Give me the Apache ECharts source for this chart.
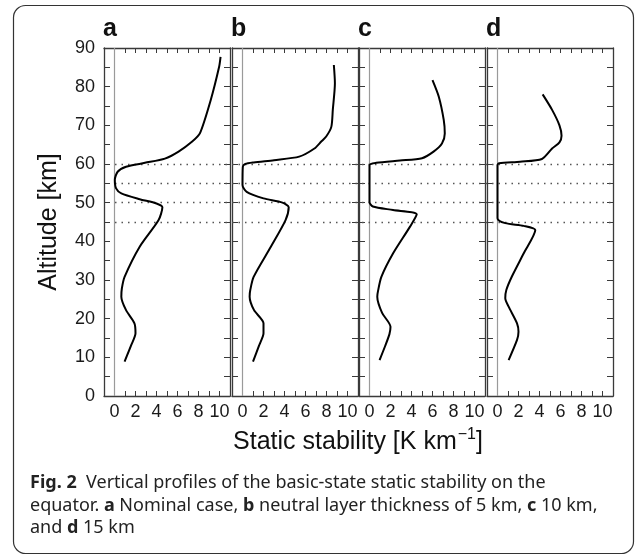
<!DOCTYPE html>
<html>
<head>
<meta charset="utf-8">
<script src="https://cdn.jsdelivr.net/npm/echarts@6/dist/echarts.min.js"></script>
<style>
  html, body { margin: 0; padding: 0; background: #fff; }
  #container { width: 637px; height: 558px; }
</style>
</head>
<body>
<div id="container"></div>
<script>
// panel letters
var panelNames = ['a', 'b', 'c', 'd'];

// static stability [K/km] and altitude [km]
var stabA = [10.1, 9.97, 9.16, 8.13, 7.4, 6.1, 4.8, 2.9, 1.1, 0.3, 0.03, 0.15, 0.65, 2.4, 4.0, 4.56, 4.2, 2.4, 0.96, 0.7, 0.65, 1.1, 1.9, 2.0, 1.6, 0.96];
var altA  = [87.7, 85.2, 76.5, 67.9, 65.8, 63.2, 61.4, 60.3, 59.3, 58.0, 55.9, 53.7, 52.4, 50.9, 49.8, 48.8, 45.5, 38.6, 30.8, 27.8, 25.7, 22.2, 18.8, 16.2, 13.2, 8.9];

var stabB = [8.7, 8.8, 8.6, 8.46, 7.97, 7.5, 6.85, 5.4, 3.0, 1.06, 0.26, 0.03, 0.0, 0.4, 2.0, 3.8, 4.4, 4.1, 2.7, 1.06, 0.74, 0.68, 1.1, 2.0, 2.0, 1.6, 1.0];
var altB  = [85.6, 80.9, 74.0, 69.6, 67.1, 65.8, 64.0, 61.9, 61.0, 60.4, 60.0, 59.3, 54.6, 52.8, 51.1, 50.0, 48.8, 45.5, 38.6, 30.8, 27.4, 25.7, 22.2, 18.8, 16.2, 13.2, 8.9];

var stabC = [6.0, 6.6, 7.07, 7.17, 6.9, 6.1, 5.0, 2.9, 0.65, 0.0, 0.0, 0.32, 2.25, 4.5, 3.86, 2.25, 1.13, 0.8, 0.74, 1.2, 2.0, 1.9, 1.5, 0.96];
var altC  = [81.7, 77.4, 71.4, 67.9, 65.3, 63.2, 61.5, 60.9, 60.3, 59.7, 50.2, 49.0, 48.1, 47.0, 43.8, 36.9, 30.8, 27.0, 25.7, 21.5, 17.9, 16.0, 13.0, 9.3];

var stabD = [4.3, 5.2, 5.9, 6.1, 5.9, 5.2, 4.23, 2.15, 0.16, 0.0, 0.0, 0.74, 2.5, 3.6, 2.5, 1.37, 0.84, 0.74, 1.06, 1.86, 2.0, 1.86, 1.06];
var altD  = [78.0, 74.0, 70.0, 67.3, 65.6, 64.0, 61.3, 60.6, 60.2, 59.7, 46.0, 44.7, 44.0, 42.9, 36.9, 30.9, 27.4, 25.3, 23.1, 18.8, 16.6, 14.5, 9.3];

// dotted reference altitudes [km]
var dottedLevels = [45, 50, 55, 60];

// tick labels
var xTickLabels = [0, 2, 4, 6, 8, 10];
var yTickLabels = [0, 10, 20, 30, 40, 50, 60, 70, 80, 90];

var profiles = [[stabA, altA], [stabB, altB], [stabC, altC], [stabD, altD]];

var myChart = echarts.init(document.getElementById('container'));

var lefts = [104, 232, 359, 487];
var plotW = 126, plotTop = 48, plotH = 348;
var frameColor = '#3a3a3a';
var font = 'Liberation Sans, Arial, sans-serif';

var grids = [], xAxes = [], yAxes = [], series = [], graphics = [];

for (var i = 0; i < 4; i++) {
    grids.push({left: lefts[i], top: plotTop, width: plotW, height: plotH});

    var xBase = {
        gridIndex: i, type: 'value', min: -1, max: 11, interval: 1,
        axisLine: {show: true, onZero: false, lineStyle: {color: frameColor, width: 1.3}},
        axisTick: {show: true, inside: true, length: 5, lineStyle: {color: frameColor, width: 1}},
        splitLine: {show: false}
    };
    xAxes.push(Object.assign({}, xBase, {
        position: 'bottom',
        axisLabel: {
            margin: 7, fontSize: 18, color: '#1a1a1a', fontFamily: font,
            showMinLabel: true, showMaxLabel: true,
            formatter: function (v) { return xTickLabels.indexOf(v) >= 0 ? String(v) : ''; }
        }
    }));
    xAxes.push(Object.assign({}, xBase, {position: 'top', axisLabel: {show: false}}));

    var yBase = {
        gridIndex: i, type: 'value', min: 0, max: 90, interval: 5,
        axisLine: {show: true, onZero: false, lineStyle: {color: frameColor, width: 1.3}},
        axisTick: {show: true, inside: true, length: 6, lineStyle: {color: frameColor, width: 1}},
        splitLine: {show: false}
    };
    yAxes.push(Object.assign({}, yBase, {
        position: 'left',
        axisLabel: {
            show: i === 0, margin: 9, fontSize: 18, color: '#1a1a1a', fontFamily: font,
            formatter: function (v) { return yTickLabels.indexOf(v) >= 0 ? String(v) : ''; }
        }
    }));
    yAxes.push(Object.assign({}, yBase, {position: 'right', axisLabel: {show: false}}));

    var pts = [];
    for (var k = 0; k < profiles[i][0].length; k++) {
        pts.push([profiles[i][0][k], profiles[i][1][k]]);
    }
    series.push({
        type: 'line',
        xAxisIndex: i * 2,
        yAxisIndex: i * 2,
        data: pts,
        showSymbol: false,
        smooth: 0.25,
        z: 5,
        lineStyle: {color: '#000', width: 2},
        markLine: {
            silent: true, symbol: 'none', label: {show: false},
            lineStyle: {color: '#9a9a9a', width: 1.2, type: 'solid'},
            data: [{xAxis: 0}]
        }
    });

    graphics.push({
        type: 'text', left: lefts[i] - 1, top: 17,
        style: {text: panelNames[i], font: 'bold 25px ' + font, fill: '#111'}
    });
}

// overlay grid carrying the dotted levels across all panels
grids.push({left: 115, top: plotTop, width: 498, height: plotH});
xAxes.push({gridIndex: 4, type: 'value', min: 0, max: 1, show: false});
yAxes.push({gridIndex: 4, type: 'value', min: 0, max: 90, show: false});
series.push({
    type: 'line', xAxisIndex: 8, yAxisIndex: 8, data: [], z: 1,
    markLine: {
        silent: true, symbol: 'none', label: {show: false},
        lineStyle: {color: '#555', width: 1.3, type: [1.5, 5]},
        data: dottedLevels.map(function (v) { return {yAxis: v}; })
    }
});

// frame and texts
graphics.push({
    type: 'rect', shape: {x: 13.5, y: 5.5, width: 620, height: 548, r: 12},
    style: {fill: null, stroke: '#333', lineWidth: 1.2}, z: -1
});
graphics.push({
    type: 'text', x: 49, y: 222, rotation: Math.PI / 2,
    style: {text: 'Altitude [km]', font: '25px ' + font, fill: '#111', align: 'center', verticalAlign: 'middle'}
});
graphics.push({
    type: 'text', x: 358, y: 441,
    style: {
        text: '{t|Static stability [K km}{s|−1}{t|]}',
        align: 'center', verticalAlign: 'middle',
        rich: {
            t: {font: '25px ' + font, fill: '#111', verticalAlign: 'bottom'},
            s: {font: '16px ' + font, fill: '#111', verticalAlign: 'top', padding: [0, 0, 12, 1]}
        }
    }
});

var capFont = 'Noto Sans, Open Sans, sans-serif';
var capRich = {
    n: {font: '18px ' + capFont, fill: '#222'},
    b: {font: 'bold 18px ' + capFont, fill: '#222'}
};
var captionLines = [
    '{b|Fig. 2}{n|  Vertical profiles of the basic-state static stability on the}',
    '{n|equator. }{b|a}{n| Nominal case, }{b|b}{n| neutral layer thickness of 5 km, }{b|c}{n| 10 km,}',
    '{n|and }{b|d}{n| 15 km}'
];
for (var j = 0; j < captionLines.length; j++) {
    graphics.push({
        type: 'text', x: 30, y: 483 + j * 22.5,
        style: {text: captionLines[j], rich: capRich, verticalAlign: 'middle'}
    });
}

var option = {
    animation: false,
    backgroundColor: '#fff',
    grid: grids,
    xAxis: xAxes,
    yAxis: yAxes,
    series: series,
    graphic: graphics
};

myChart.setOption(option);
</script>
</body>
</html>
